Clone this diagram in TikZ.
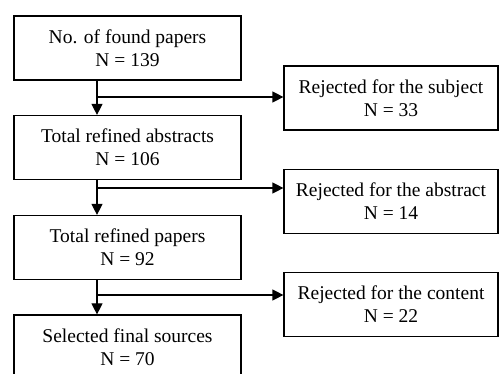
\documentclass[tikz,border=0pt]{standalone}
\usepackage{fontspec}
\setmainfont{Liberation Serif}
\usetikzlibrary{arrows.meta}
\begin{document}
\begin{tikzpicture}[x=1pt,y=-1pt,
  box/.style={draw=black, line width=1.2pt, fill=white, align=center, inner sep=0pt,
    font=\fontsize{19.5}{23}\selectfont},
  lbox/.style={box, minimum width=227pt, minimum height=64pt},
  rbox/.style={box, minimum width=214pt, minimum height=64pt},
  conn/.style={line width=1.2pt, -{Triangle[length=11pt,width=11pt]}}]
\useasboundingbox (0,0) rectangle (499,374);
\clip (0,0) rectangle (499,374);
\node[lbox] (b1) at (127.5,48) {No. of found papers\\N = 139};
\node[lbox] (b2) at (127.5,147.5) {Total refined abstracts\\N = 106};
\node[lbox] (b3) at (127.5,247.5) {Total refined papers\\N = 92};
\node[lbox] (b4) at (127.5,347) {Selected final sources\\N = 70};
\node[rbox] (r1) at (391,98) {Rejected for the subject\\N = 33};
\node[rbox] (r2) at (391,201.5) {Rejected for the abstract\\N = 14};
\node[rbox] (r3) at (391,304.5) {Rejected for the content\\N = 22};
\coordinate (t) at (97,0);
\coordinate (j1) at (97,97);
\coordinate (j2) at (97,188);
\coordinate (j3) at (97,295);
\draw[conn] (b1.south -| t) -- (b2.north -| t);
\draw[conn] (b2.south -| t) -- (b3.north -| t);
\draw[conn] (b3.south -| t) -- (b4.north -| t);
\draw[conn] (j1) -- (r1.west |- j1);
\draw[conn] (j2) -- (r2.west |- j2);
\draw[conn] (j3) -- (r3.west |- j3);
\end{tikzpicture}
\end{document}
